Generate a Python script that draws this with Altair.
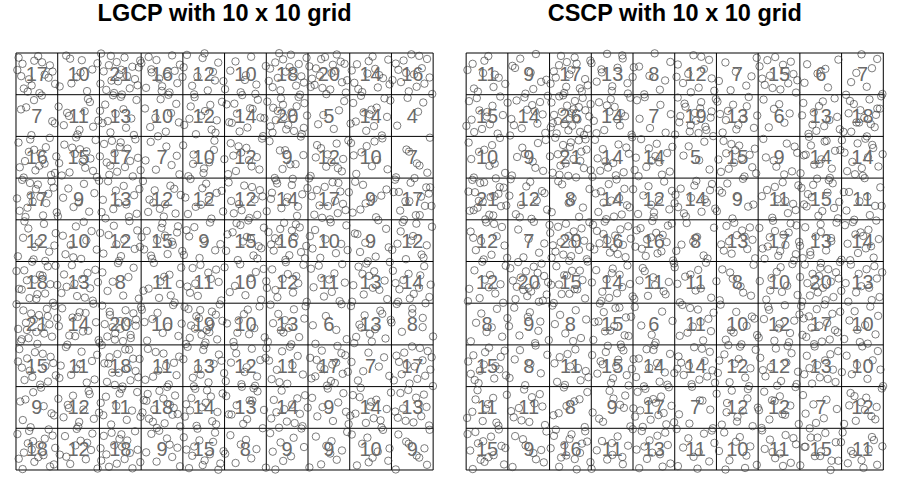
import altair as alt
import pandas as pd

titles = ["LGCP with 10 x 10 grid", "CSCP with 10 x 10 grid"]

# quadrat counts, rows listed from top to bottom, columns left to right
lgcp_counts = [
    [17, 10, 21, 16, 12, 10, 18, 20, 14, 16],
    [7, 11, 13, 10, 12, 14, 20, 5, 14, 4],
    [16, 15, 17, 7, 10, 12, 9, 12, 10, 7],
    [17, 9, 13, 12, 12, 12, 14, 17, 9, 17],
    [12, 10, 12, 15, 9, 15, 16, 10, 9, 12],
    [18, 13, 8, 11, 11, 10, 12, 11, 13, 14],
    [21, 14, 20, 10, 19, 10, 13, 6, 13, 8],
    [15, 11, 18, 11, 13, 12, 11, 17, 7, 17],
    [9, 12, 11, 18, 14, 13, 14, 9, 14, 13],
    [18, 12, 18, 9, 15, 8, 9, 9, 10, 9],
]
cscp_counts = [
    [11, 9, 17, 13, 8, 12, 7, 15, 6, 7],
    [15, 14, 26, 14, 7, 19, 13, 6, 13, 18],
    [10, 9, 21, 14, 14, 5, 15, 9, 14, 14],
    [21, 12, 8, 14, 12, 14, 9, 11, 15, 11],
    [12, 7, 20, 16, 16, 8, 13, 17, 13, 14],
    [12, 20, 15, 14, 11, 11, 8, 10, 20, 13],
    [8, 9, 8, 15, 6, 11, 10, 12, 17, 10],
    [15, 8, 11, 15, 14, 14, 12, 12, 13, 10],
    [11, 11, 8, 9, 17, 7, 12, 12, 7, 12],
    [15, 9, 16, 11, 13, 11, 10, 11, 15, 11],
]
grid_breaks = list(range(11))

GAP = 33 / 41.73          # gap between the two windows, in cell units
OFFSETS = [0.0, 10.0 + GAP]


def halton(i, b):
    f, r = 1.0, 0.0
    while i > 0:
        f /= b
        r += f * (i % b)
        i //= b
    return r


cells, pts, vl, hl, tt = [], [], [], [], []
for p, (title, counts, seed) in enumerate(
    [(titles[0], lgcp_counts, 3), (titles[1], cscp_counts, 11)]
):
    off = OFFSETS[p]
    tt.append({"t": title, "x": off + 5})
    for g in grid_breaks:
        vl.append({"x": off + g, "y": 0, "y2": 10})
        hl.append({"y": g, "x": off, "x2": off + 10})
    for r, row in enumerate(counts):
        for c, n in enumerate(row):
            cells.append({"x": off + c + 0.5, "y": 9.5 - r, "n": n})
            base = seed + (r * 10 + c) * 37
            for k in range(n):
                u = halton(base + k + 1, 2)
                v = halton(base + k + 1, 3)
                pts.append({"x": off + c + u, "y": 9 - r + v})

cells = pd.DataFrame(cells)
pts = pd.DataFrame(pts)
vl = pd.DataFrame(vl)
hl = pd.DataFrame(hl)
tt = pd.DataFrame(tt)

xs = alt.Scale(domain=[0, 20 + GAP], nice=False, zero=False)
ys = alt.Scale(domain=[0, 10], nice=False, zero=False)

vlines = alt.Chart(vl).mark_rule(color="black", strokeWidth=1).encode(
    x=alt.X("x:Q", scale=xs, axis=None),
    y=alt.Y("y:Q", scale=ys, axis=None),
    y2="y2:Q",
)
hlines = alt.Chart(hl).mark_rule(color="black", strokeWidth=1).encode(
    y=alt.Y("y:Q", scale=ys, axis=None),
    x=alt.X("x:Q", scale=xs, axis=None),
    x2="x2:Q",
)
points = alt.Chart(pts).mark_point(
    shape="circle", filled=False, size=55, strokeWidth=0.8,
    color="#333333", opacity=0.8, clip=False,
).encode(
    x=alt.X("x:Q", scale=xs, axis=None),
    y=alt.Y("y:Q", scale=ys, axis=None),
)
labels = alt.Chart(cells).mark_text(
    font="Liberation Sans", fontSize=20, color="#6a6a6a",
    align="center", baseline="middle", dy=1,
).encode(
    x=alt.X("x:Q", scale=xs, axis=None),
    y=alt.Y("y:Q", scale=ys, axis=None),
    text="n:Q",
)
ttl = alt.Chart(tt).mark_text(
    font="Liberation Sans", fontSize=23.5, fontWeight="bold", color="black",
    align="center", baseline="alphabetic",
).encode(
    x=alt.X("x:Q", scale=xs, axis=None),
    y=alt.value(-32),
    text="t:N",
)

chart = alt.layer(vlines, hlines, points, labels, ttl).properties(
    width=867.3,
    height=417,
    autosize=alt.AutoSizeParams(type="none"),
    padding={"left": 16, "top": 53, "right": 16, "bottom": 30},
).configure_view(stroke=None)

chart.save("out.html", embed_options={"renderer": "svg", "actions": False})
